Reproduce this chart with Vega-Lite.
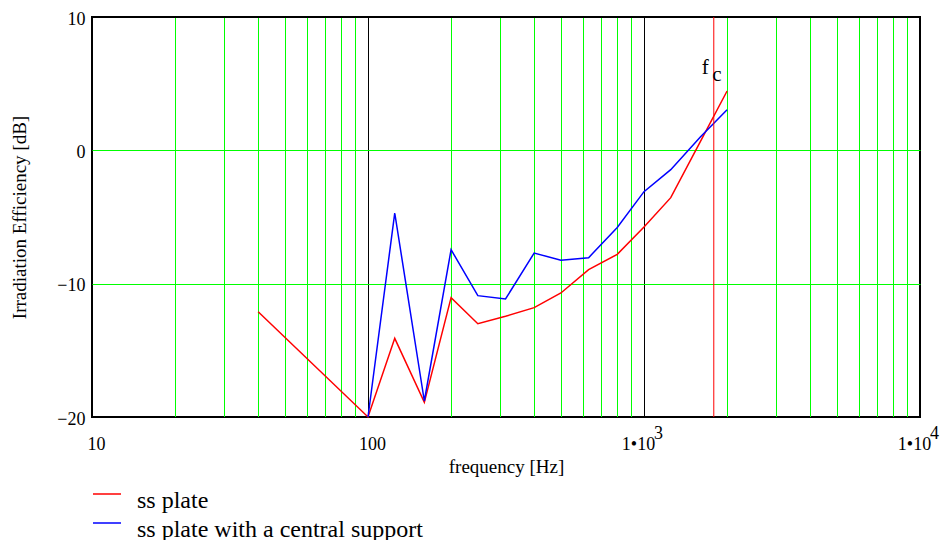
{
  "$schema": "https://vega.github.io/schema/vega-lite/v6.json",
  "width": 828,
  "height": 400,
  "autosize": {"type": "none"},
  "padding": {"left": 92, "top": 17, "right": 23, "bottom": 123},
  "background": "white",
  "config": {
    "font": "Liberation Serif",
    "view": {"stroke": "black", "strokeWidth": 2}
  },
  "datasets": {
    "curves": [
      {"f": 40, "v": -12.1, "s": "ss plate"},
      {"f": 100, "v": -20, "s": "ss plate"},
      {"f": 125, "v": -14.1, "s": "ss plate"},
      {"f": 160, "v": -18.9, "s": "ss plate"},
      {"f": 200, "v": -11.05, "s": "ss plate"},
      {"f": 250, "v": -13.0, "s": "ss plate"},
      {"f": 315, "v": -12.45, "s": "ss plate"},
      {"f": 400, "v": -11.8, "s": "ss plate"},
      {"f": 500, "v": -10.7, "s": "ss plate"},
      {"f": 630, "v": -8.95, "s": "ss plate"},
      {"f": 800, "v": -7.8, "s": "ss plate"},
      {"f": 1000, "v": -5.75, "s": "ss plate"},
      {"f": 1250, "v": -3.55, "s": "ss plate"},
      {"f": 1600, "v": 0.65, "s": "ss plate"},
      {"f": 2000, "v": 4.45, "s": "ss plate"},
      {"f": 100, "v": -20, "s": "ss plate with a central support"},
      {"f": 125, "v": -4.7, "s": "ss plate with a central support"},
      {"f": 160, "v": -18.8, "s": "ss plate with a central support"},
      {"f": 200, "v": -7.45, "s": "ss plate with a central support"},
      {"f": 250, "v": -10.9, "s": "ss plate with a central support"},
      {"f": 315, "v": -11.15, "s": "ss plate with a central support"},
      {"f": 400, "v": -7.7, "s": "ss plate with a central support"},
      {"f": 500, "v": -8.25, "s": "ss plate with a central support"},
      {"f": 630, "v": -8.05, "s": "ss plate with a central support"},
      {"f": 800, "v": -5.78, "s": "ss plate with a central support"},
      {"f": 1000, "v": -3.1, "s": "ss plate with a central support"},
      {"f": 1250, "v": -1.45, "s": "ss plate with a central support"},
      {"f": 1600, "v": 1.0, "s": "ss plate with a central support"},
      {"f": 2000, "v": 3.05, "s": "ss plate with a central support"}
    ],
    "fc": [{"f": 1790, "v": 10}],
    "exps": [{"f": 1000, "v": -20, "e": "3"}, {"f": 10000, "v": -20, "e": "4"}]
  },
  "layer": [
    {
      "data": {"name": "curves"},
      "mark": {"type": "line", "strokeWidth": 1.5},
      "encoding": {
        "x": {
          "field": "f", "type": "quantitative",
          "scale": {"type": "log", "domain": [10, 10000], "nice": false},
          "axis": {
            "values": [10, 20, 30, 40, 50, 60, 70, 80, 90, 100, 200, 300, 400, 500, 600, 700, 800, 900, 1000, 2000, 3000, 4000, 5000, 6000, 7000, 8000, 9000, 10000],
            "labelExpr": "datum.value==10?'10':datum.value==100?'100':(datum.value==1000||datum.value==10000)?'1•10':''",
            "grid": true,
            "gridColor": {"condition": {"test": "datum.value==10||datum.value==100||datum.value==1000||datum.value==10000", "value": "#000000"}, "value": "#00ff00"},
            "gridWidth": 1,
            "gridOpacity": 1,
            "ticks": false,
            "tickSize": 0,
            "domain": false,
            "labelFontSize": 18,
            "labelColor": "black",
            "labelPadding": 32,
            "labelBaseline": "alphabetic",
            "labelOffset": {"condition": {"test": "datum.value>=1000", "value": -6}, "value": 4},
            "labelFlush": false,
            "labelOverlap": false,
            "labelBound": false,
            "title": "frequency [Hz]",
            "titleFontSize": 19,
            "titleFontWeight": "normal",
            "titleColor": "black",
            "titleX": 414,
            "titleY": 55,
            "titleBaseline": "alphabetic",
            "titleAlign": "center"
          }
        },
        "y": {
          "field": "v", "type": "quantitative",
          "scale": {"domain": [-20, 10], "nice": false, "zero": false},
          "axis": {
            "values": [-20, -10, 0, 10],
            "grid": true,
            "gridColor": {"condition": {"test": "datum.value==-20||datum.value==10", "value": "#000000"}, "value": "#00ff00"},
            "gridWidth": 1,
            "gridOpacity": 1,
            "ticks": false,
            "tickSize": 0,
            "domain": false,
            "labelFontSize": 18,
            "labelColor": "black",
            "labelPadding": 7,
            "labelBaseline": "middle",
            "labelOffset": 2,
            "labelFlush": false,
            "labelOverlap": false,
            "title": "Irradiation Efficiency [dB]",
            "titleFontSize": 19,
            "titleFontWeight": "normal",
            "titleColor": "black",
            "titleX": -73,
            "titleY": 200,
            "titleAngle": -90,
            "titleAlign": "center",
            "titleBaseline": "middle"
          }
        },
        "color": {
          "field": "s", "type": "nominal",
          "scale": {"domain": ["ss plate", "ss plate with a central support"], "range": ["#ff0000", "#0000ff"]},
          "legend": {
            "title": null,
            "orient": "none",
            "legendX": 0,
            "legendY": 469,
            "direction": "vertical",
            "symbolType": "M-1,-0.5L1,-0.5",
            "symbolSize": 784,
            "symbolStrokeWidth": 1.5,
            "labelFontSize": 24,
            "labelFont": "Liberation Serif",
            "labelColor": "black",
            "labelOffset": 15,
            "labelBaseline": "middle",
            "labelLimit": 0,
            "rowPadding": 2,
            "padding": 0
          }
        }
      }
    },
    {
      "data": {"name": "fc"},
      "mark": {"type": "rule", "color": "#ff0000", "strokeWidth": 1},
      "encoding": {"x": {"field": "f", "type": "quantitative"}}
    },
    {
      "data": {"name": "fc"},
      "mark": {"type": "text", "text": "f", "fontSize": 21, "font": "Liberation Serif", "color": "black", "align": "center", "baseline": "middle", "dx": -8.5, "dy": 51},
      "encoding": {"x": {"field": "f", "type": "quantitative"}, "y": {"field": "v", "type": "quantitative"}}
    },
    {
      "data": {"name": "fc"},
      "mark": {"type": "text", "text": "c", "fontSize": 21, "font": "Liberation Serif", "color": "black", "align": "center", "baseline": "middle", "dx": 3, "dy": 58},
      "encoding": {"x": {"field": "f", "type": "quantitative"}, "y": {"field": "v", "type": "quantitative"}}
    },
    {
      "data": {"name": "exps"},
      "mark": {"type": "text", "fontSize": 18, "font": "Liberation Serif", "color": "black", "align": "center", "baseline": "middle", "dx": 14.5, "dy": 17},
      "encoding": {"x": {"field": "f", "type": "quantitative"}, "y": {"field": "v", "type": "quantitative"}, "text": {"field": "e"}}
    }
  ]
}
